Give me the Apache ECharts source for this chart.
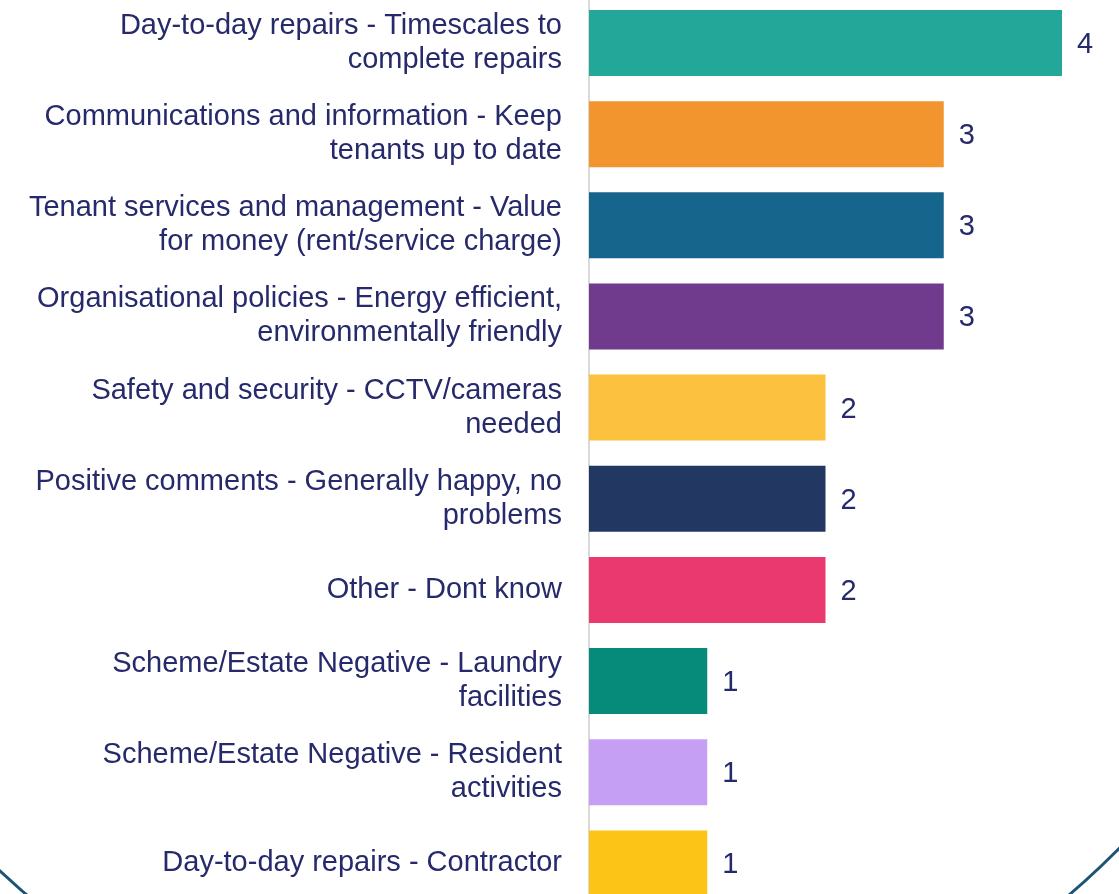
<!DOCTYPE html>
<html>
<head>
<meta charset="utf-8">
<script src="https://cdn.jsdelivr.net/npm/echarts@6/dist/echarts.min.js"></script>
<style>
html,body{margin:0;padding:0;background:#fff;overflow:hidden;width:1119px;height:894px;}
#chart{position:absolute;left:0;top:-3px;width:1119px;height:912px;}
</style>
</head>
<body>
<div id="chart"></div>
<script>
var categories = [
  "Day-to-day repairs - Timescales to\ncomplete repairs",
  "Communications and information - Keep\ntenants up to date",
  "Tenant services and management - Value\nfor money (rent/service charge)",
  "Organisational policies - Energy efficient,\nenvironmentally friendly",
  "Safety and security - CCTV/cameras\nneeded",
  "Positive comments - Generally happy, no\nproblems",
  "Other - Dont know",
  "Scheme/Estate Negative - Laundry\nfacilities",
  "Scheme/Estate Negative - Resident\nactivities",
  "Day-to-day repairs - Contractor"
];
var values = [4, 3, 3, 3, 2, 2, 2, 1, 1, 1];
var barColors = ["#22a799", "#f2952f", "#15658c", "#703b8c", "#fcc13e", "#223862", "#e9396f", "#068b7b", "#c49ff4", "#fdc418"];

var textColor = "#262a6b";
var chart = echarts.init(document.getElementById('chart'));
chart.setOption({
  animation: false,
  backgroundColor: '#ffffff',
  graphic: [{
    type: 'circle',
    z: -10,
    shape: {cx: 548, cy: 287, r: 803},
    style: {fill: 'none', stroke: '#1d5475', lineWidth: 3}
  }],
  grid: {left: 589, right: 57, top: 0.4, bottom: 0, containLabel: false},
  xAxis: {
    type: 'value', min: 0, max: 4, show: false
  },
  yAxis: {
    type: 'category',
    inverse: true,
    data: categories,
    axisLine: {show: true, lineStyle: {color: '#d9d9d9', width: 2}},
    axisTick: {show: false},
    axisLabel: {
      color: textColor, fontSize: 29, lineHeight: 34,
      fontFamily: 'Liberation Sans, Arial, sans-serif',
      margin: 27, align: 'right'
    }
  },
  series: [{
    type: 'bar',
    data: values.map(function (v, i) { return {value: v, itemStyle: {color: barColors[i]}}; }),
    barWidth: 66,
    label: {
      show: true, position: 'right', distance: 15, offset: [0, 2],
      color: textColor, fontSize: 29,
      fontFamily: 'Liberation Sans, Arial, sans-serif'
    }
  }]
});
</script>
</body>
</html>
